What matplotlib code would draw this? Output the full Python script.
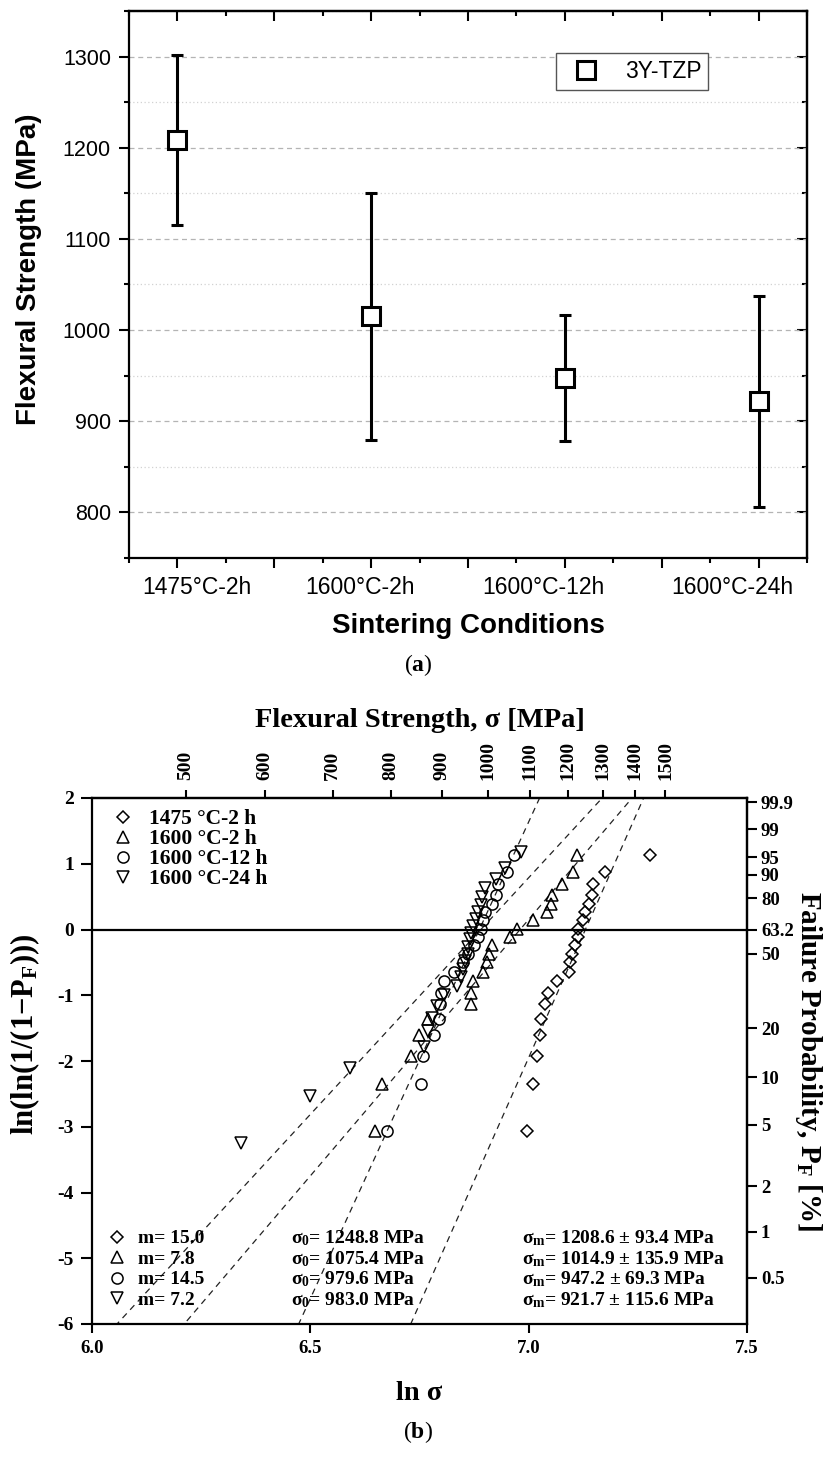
import numpy as np
import matplotlib
matplotlib.use("Agg")
import matplotlib.pyplot as plt
from matplotlib.ticker import MultipleLocator, FixedLocator
from matplotlib.lines import Line2D
from matplotlib.transforms import ScaledTranslation

# ---------------- Panel (a) data ----------------
conditions = ['1475°C-2h', '1600°C-2h', '1600°C-12h', '1600°C-24h']
mean_strength = [1208.6, 1014.9, 947.2, 921.7]
std_strength = [93.4, 135.9, 69.3, 115.6]
legend_a = '3Y-TZP'
strength_ticks_a = [800, 900, 1000, 1100, 1200, 1300]

# ---------------- Panel (b) data ----------------
series_labels = ['1475 °C-2 h', '1600 °C-2 h', '1600 °C-12 h', '1600 °C-24 h']
weibull_m = [15.0, 7.8, 14.5, 7.2]
sigma0 = [1248.8, 1075.4, 979.6, 983.0]

ln_sigma_1475 = [6.997, 7.009, 7.019, 7.025, 7.028, 7.038, 7.045, 7.066, 7.093, 7.095, 7.099,
                 7.106, 7.112, 7.114, 7.124, 7.129, 7.139, 7.146, 7.148, 7.175, 7.278]
ln_sigma_1600_2h = [6.648, 6.665, 6.730, 6.748, 6.770, 6.869, 6.869, 6.873, 6.896, 6.905, 6.910,
                    6.915, 6.957, 6.974, 7.010, 7.042, 7.051, 7.053, 7.076, 7.101, 7.110]
ln_sigma_1600_12h = [6.675, 6.754, 6.758, 6.783, 6.795, 6.797, 6.800, 6.805, 6.830, 6.850, 6.860,
                     6.875, 6.885, 6.890, 6.895, 6.900, 6.915, 6.925, 6.930, 6.950, 6.966]
ln_sigma_1600_24h = [6.342, 6.500, 6.590, 6.760, 6.770, 6.778, 6.790, 6.805, 6.835, 6.845, 6.850,
                     6.855, 6.860, 6.862, 6.866, 6.869, 6.873, 6.880, 6.885, 6.890, 6.893, 6.900,
                     6.925, 6.945, 6.983]

lnln_21 = [-3.07, -2.35, -1.92, -1.61, -1.36, -1.14, -0.96, -0.79, -0.64, -0.50, -0.37,
           -0.24, -0.11, 0.01, 0.14, 0.26, 0.39, 0.53, 0.69, 0.87, 1.13]
lnln_25 = [-3.24, -2.53, -2.10, -1.79, -1.54, -1.34, -1.16, -1.00, -0.86, -0.72, -0.60, -0.48,
           -0.37, -0.26, -0.15, -0.05, 0.06, 0.16, 0.27, 0.38, 0.50, 0.63, 0.77, 0.94, 1.18]

strength_ticks_b = [500, 600, 700, 800, 900, 1000, 1100, 1200, 1300, 1400, 1500]
prob_ticks = [0.5, 1, 2, 5, 10, 20, 50, 63.2, 80, 90, 95, 99, 99.9]
prob_labels = ['0.5', '1', '2', '5', '10', '20', '50', '63.2', '80', '90', '95', '99', '99.9']
lnln_ticks = [-6, -5, -4, -3, -2, -1, 0, 1, 2]
lnsigma_ticks = [6.0, 6.5, 7.0, 7.5]

# ---------------- style ----------------
plt.rcParams['mathtext.fontset'] = 'custom'
plt.rcParams['mathtext.rm'] = 'Liberation Serif:bold'
plt.rcParams['mathtext.it'] = 'Liberation Serif:bold'
plt.rcParams['mathtext.bf'] = 'Liberation Serif:bold'
plt.rcParams['font.family'] = ['Liberation Serif', 'DejaVu Serif']

SANS = ['Liberation Sans', 'DejaVu Sans']
SERIF = ['Liberation Serif', 'DejaVu Serif']

W, H = 836, 1457
fig = plt.figure(figsize=(W / 100, H / 100), dpi=100)


def rect(l, t, r, b):
    return [l / W, 1 - b / H, (r - l) / W, (b - t) / H]


# ====================== Panel (a) ======================
axA = fig.add_axes(rect(129, 11, 807, 558))
xa = np.arange(len(conditions))
axA.errorbar(xa, mean_strength, yerr=std_strength, fmt='s', ms=13, mfc='white', mec='black',
             mew=2.2, ecolor='black', elinewidth=2.2, capsize=4.5, capthick=2.2, zorder=3)
axA.set_xlim(-0.25, len(conditions) - 0.75)
axA.set_ylim(750, 1350)

half_ticks = np.arange(0, len(conditions) - 0.99, 0.5)
half_labels = [conditions[int(round(v))] if abs(v - round(v)) < 1e-9 else '' for v in half_ticks]
axA.set_xticks(half_ticks, labels=half_labels, fontfamily=SANS, fontsize=16.5)
axA.xaxis.set_minor_locator(MultipleLocator(0.25))
axA.set_yticks(strength_ticks_a, labels=[str(v) for v in strength_ticks_a], fontfamily=SANS,
               fontsize=15.5)
axA.yaxis.set_minor_locator(MultipleLocator(50))
axA.tick_params(which='both', direction='out', width=1.5, top=False, right=False)
axA.tick_params(which='major', length=7, pad=6)
axA.tick_params(which='minor', length=3.5)
for s in axA.spines.values():
    s.set_linewidth(1.6)

axA.grid(True, which='major', axis='y', ls=(0, (4, 3)), color='#b4b4b4', lw=0.9)
axA.grid(True, which='minor', axis='y', ls=(0, (1, 2)), color='#d2d2d2', lw=0.9)
axA.set_axisbelow(True)

topA = axA.secondary_xaxis('top')
topA.set_xticks(half_ticks)
topA.xaxis.set_minor_locator(MultipleLocator(0.25))
topA.tick_params(which='both', direction='in', labeltop=False, width=1.5)
topA.tick_params(which='major', length=7)
topA.tick_params(which='minor', length=3.5)
topA.spines['top'].set_linewidth(1.6)

rightA = axA.secondary_yaxis('right')
rightA.set_yticks(strength_ticks_a)
rightA.yaxis.set_minor_locator(MultipleLocator(50))
rightA.tick_params(which='both', direction='in', labelright=False, width=1.5)
rightA.tick_params(which='major', length=7)
rightA.tick_params(which='minor', length=3.5)
rightA.spines['right'].set_linewidth(1.6)

axA.set_ylabel('Flexural Strength (MPa)', fontfamily=SANS, fontweight='bold', fontsize=20)
axA.yaxis.set_label_coords(-0.128, 0.527)
axA.set_xlabel('Sintering Conditions', fontfamily=SANS, fontweight='bold', fontsize=20,
               labelpad=10)

handleA = Line2D([], [], ls='none', marker='s', ms=13, mfc='white', mec='black', mew=2.2)
legA = axA.legend([handleA], [legend_a], loc='upper left',
                  bbox_to_anchor=((556 - 129) / 678, 1 - (53 - 11) / 547), borderaxespad=0,
                  frameon=True, fancybox=False, edgecolor='#555555', framealpha=1,
                  prop={'family': SANS, 'size': 16.5}, handlelength=2.0, handletextpad=0.7,
                  borderpad=0.3)
legA.get_frame().set_linewidth(1.0)

fig.text(418 / W, 1 - 665 / H, r'($\mathbf{a}$)', fontfamily=SERIF, fontsize=17,
         ha='center', va='center')

# ====================== Panel (b) ======================
axB = fig.add_axes(rect(92, 798, 747, 1324))
ln_sigma_all = [ln_sigma_1475, ln_sigma_1600_2h, ln_sigma_1600_12h, ln_sigma_1600_24h]
lnln_all = [lnln_21, lnln_21, lnln_21, lnln_25]
marker_styles = ['D', '^', 'o', 'v']
marker_sizes = [6.4, 8.5, 8.0, 8.5]
handles = []
for xs, ys, mk, ms, lab in zip(ln_sigma_all, lnln_all, marker_styles, marker_sizes, series_labels):
    h, = axB.plot(xs, ys, ls='none', marker=mk, ms=ms, mfc='none', mec='black', mew=1.1,
                  label=lab, zorder=3)
    handles.append(h)

axB.set_xlim(6.0, 7.5)
axB.set_ylim(-6, 2)
xl = np.array(axB.get_xlim())
for m, s0 in zip(weibull_m, sigma0):
    axB.plot(xl, m * (xl - np.log(s0)), ls=(0, (5, 4)), color='#222222', lw=0.9, zorder=2)
axB.axhline(0, color='black', lw=1.6, zorder=2)

axB.set_xticks(lnsigma_ticks, labels=[f'{v:.1f}' for v in lnsigma_ticks], fontweight='bold',
               fontsize=13.5)
axB.set_yticks(lnln_ticks, labels=[str(v) for v in lnln_ticks], fontweight='bold', fontsize=14)
axB.tick_params(which='both', direction='out', width=1.5, top=False, right=False)
axB.tick_params(axis='y', length=8, pad=5)
axB.tick_params(axis='x', length=6.5, pad=5)
for s in axB.spines.values():
    s.set_linewidth(1.6)

topB = axB.secondary_xaxis('top', functions=(np.exp, np.log))
topB.set_xticks(strength_ticks_b, labels=[str(v) for v in strength_ticks_b], rotation=90,
                fontweight='bold', fontsize=14)
topB.xaxis.set_minor_locator(FixedLocator([]))
topB.tick_params(direction='out', length=6, width=1.5, pad=7)
topB.spines['top'].set_linewidth(1.6)
topB.set_xlabel('Flexural Strength, σ [MPa]', fontweight='bold', fontsize=20.5, labelpad=10)


def lnln_to_prob(y):
    return 100.0 * (1.0 - np.exp(-np.exp(y)))


def prob_to_lnln(p):
    p = np.clip(np.asarray(p, dtype=float), 1e-9, 100 - 1e-9)
    return np.log(-np.log(1.0 - p / 100.0))


rightB = axB.secondary_yaxis('right', functions=(lnln_to_prob, prob_to_lnln))
rightB.set_yticks(prob_ticks, labels=prob_labels, fontweight='bold', fontsize=13.5)
rightB.yaxis.set_minor_locator(FixedLocator([]))
rightB.tick_params(direction='out', length=7, width=1.5, pad=3)
rightB.spines['right'].set_linewidth(1.6)
rightB.set_ylabel('Failure Probability, P$_\\mathrm{F}$ [%]', fontweight='bold', fontsize=21,
                  rotation=270, labelpad=22)

axB.set_ylabel('ln(ln(1/(1\u2212P$_\\mathrm{F}$)))', fontweight='bold', fontsize=22)
axB.yaxis.set_label_coords(-0.076, 0.55)
axB.set_xlabel('ln σ', fontweight='bold', fontsize=20.5, labelpad=17)

# legend of series (top left)
legB1 = axB.legend(handles, series_labels, loc='upper left',
                   bbox_to_anchor=((113 - 92) / 655, 1 - (809 - 798) / 526), borderaxespad=0,
                   frameon=False, prop={'family': SERIF, 'weight': 'bold', 'size': 15.5},
                   handlelength=0.9, handletextpad=0.75, labelspacing=0.0, borderpad=0)
axB.add_artist(legB1)

# statistics block (bottom left)
m_labels = [f'm= {m:.1f}' for m in weibull_m]
s0_labels = [rf'$\sigma_0$= {s:.1f} MPa' for s in sigma0]
sm_labels = [rf'$\sigma_\mathrm{{m}}$= {mu:.1f} ± {sd:.1f} MPa'
             for mu, sd in zip(mean_strength, std_strength)]
legB2 = axB.legend(handles, m_labels, loc='lower left',
                   bbox_to_anchor=((107 - 92) / 655, (1324 - 1309) / 526), borderaxespad=0,
                   frameon=False, prop={'family': SERIF, 'weight': 'bold', 'size': 14},
                   handlelength=1.0, handletextpad=0.6, labelspacing=0.15, borderpad=0)

fig.canvas.draw()
renderer = fig.canvas.get_renderer()
inv = axB.transAxes.inverted()
for t, s0l, sml in zip(legB2.get_texts(), s0_labels, sm_labels):
    bb = t.get_window_extent(renderer)
    _, _, d = renderer.get_text_width_height_descent('lp', t.get_fontproperties(), ismath=False)
    base = inv.transform((0, bb.y0 + d))[1]
    axB.text((291 - 92) / 655, base, s0l, transform=axB.transAxes, va='baseline', ha='left',
             fontweight='bold', fontsize=14)
    axB.text((522 - 92) / 655, base, sml, transform=axB.transAxes, va='baseline', ha='left',
             fontweight='bold', fontsize=14)

# category label offsets in panel (a) (labels sit slightly off their ticks in the original)
label_shift_px = {0: 19, 1: -11, 2: -21, 3: -26}
for tick in axA.xaxis.get_major_ticks():
    loc = tick.get_loc()
    k = int(round(loc))
    if abs(loc - k) < 1e-6 and k in label_shift_px:
        tick.label1.set_transform(tick.label1.get_transform() +
                                  ScaledTranslation(label_shift_px[k] / 100, 0, fig.dpi_scale_trans))

fig.text(418 / W, 1 - 1432 / H, r'($\mathbf{b}$)', fontfamily=SERIF, fontsize=17,
         ha='center', va='center')

fig.savefig('out.png', dpi=100)
